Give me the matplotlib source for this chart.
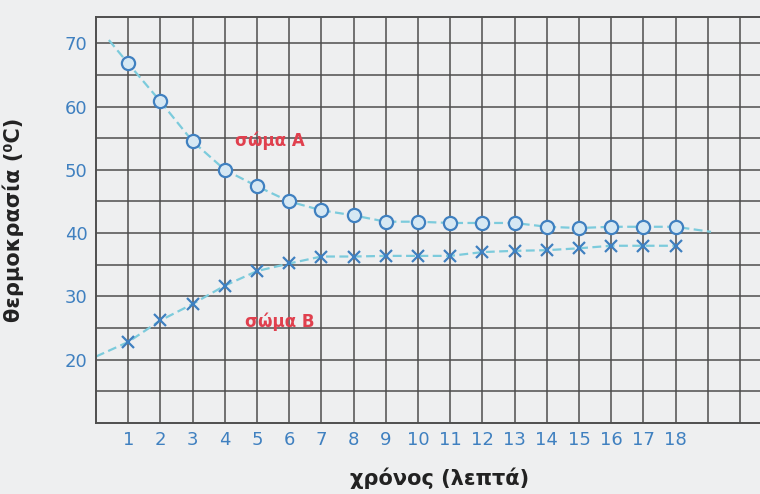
import matplotlib
matplotlib.use("Agg")
import matplotlib.pyplot as plt
import numpy as np

# Data
time_min = list(range(1, 19))
temp_A = [66.8, 60.8, 54.5, 50.0, 47.4, 45.0, 43.6, 42.8, 41.8, 41.8, 41.6, 41.6, 41.6,
          41.0, 40.8, 41.0, 41.0, 41.0]
temp_B = [22.8, 26.2, 28.8, 31.7, 34.0, 35.2, 36.3, 36.3, 36.4, 36.4, 36.4, 37.0, 37.2,
          37.3, 37.6, 38.0, 38.0, 38.0]
# curve ends drawn beyond the measured points
curveA_start = (0.4, 70.5)
curveA_end = (19.1, 40.2)
curveB_start = (0.0, 20.5)

xtick_labels = [str(t) for t in time_min]
ytick_vals = [20, 30, 40, 50, 60, 70]

label_A = "σώμα Α"
label_B = "σώμα Β"
xlabel = "χρόνος (λεπτά)"
ylabel = "θερμοκρασία (⁰C)"

bg = "#eeeff0"
grid_c = "#4e4e4e"
blue = "#3f80c0"
line_c = "#7ccbdc"
red = "#e0404e"

fig = plt.figure(figsize=(7.6, 4.94), dpi=100, facecolor=bg)
ax = fig.add_axes([96/760, 1-423/494, 664/760, (423-17)/494])
ax.set_facecolor(bg)
ax.set_xlim(0, 664/32.2)
ax.set_ylim(10, 10 + (423-17)/6.33)

# grid
for xv in np.arange(1, 21):
    ax.axvline(xv, color=grid_c, lw=1.1, zorder=1)
for yv in np.arange(15, 75, 5):
    ax.axhline(yv, color=grid_c, lw=1.1, zorder=1)
for side in ["left", "bottom", "top"]:
    ax.spines[side].set_color(grid_c)
    ax.spines[side].set_linewidth(1.4)
ax.spines["right"].set_visible(False)

# curves
xa = [curveA_start[0]] + time_min + [curveA_end[0]]
ya = [curveA_start[1]] + temp_A + [curveA_end[1]]
ax.plot(xa, ya, ls=(0, (4, 2)), color=line_c, lw=1.6, zorder=2)
xb = [curveB_start[0]] + time_min
yb = [curveB_start[1]] + temp_B
ax.plot(xb, yb, ls=(0, (4, 2)), color=line_c, lw=1.6, zorder=2)

ax.plot(time_min, temp_A, ls="none", marker="o", ms=9.5, mfc="#d6e8f3",
        mec=blue, mew=1.6, zorder=3)
ax.plot(time_min, temp_B, ls="none", marker="x", ms=9, mec=blue, mew=1.6, zorder=3)

ax.text(5.4, 54.6, label_A, color=red, fontsize=12, ha="center", va="center",
        fontweight="bold", zorder=4)
ax.text(5.7, 26.0, label_B, color=red, fontsize=12, ha="center", va="center",
        fontweight="bold", zorder=4)

ax.set_xticks(time_min)
ax.set_xticklabels(xtick_labels, color=blue, fontsize=13)
ax.set_yticks(ytick_vals)
ax.set_yticklabels([str(v) for v in ytick_vals], color=blue, fontsize=13)
ax.tick_params(length=0, pad=6)

ax.set_xlabel(xlabel, fontsize=15, fontweight="bold", color="#222222")
ax.xaxis.label.set_va("center")
ax.xaxis.set_label_coords((440-96)/664, -(478-423)/406)
ax.set_ylabel(ylabel, fontsize=15, fontweight="bold", color="#222222")
ax.yaxis.set_label_coords(-0.108, 0.5)

fig.savefig("out.png", dpi=100, facecolor=bg)
